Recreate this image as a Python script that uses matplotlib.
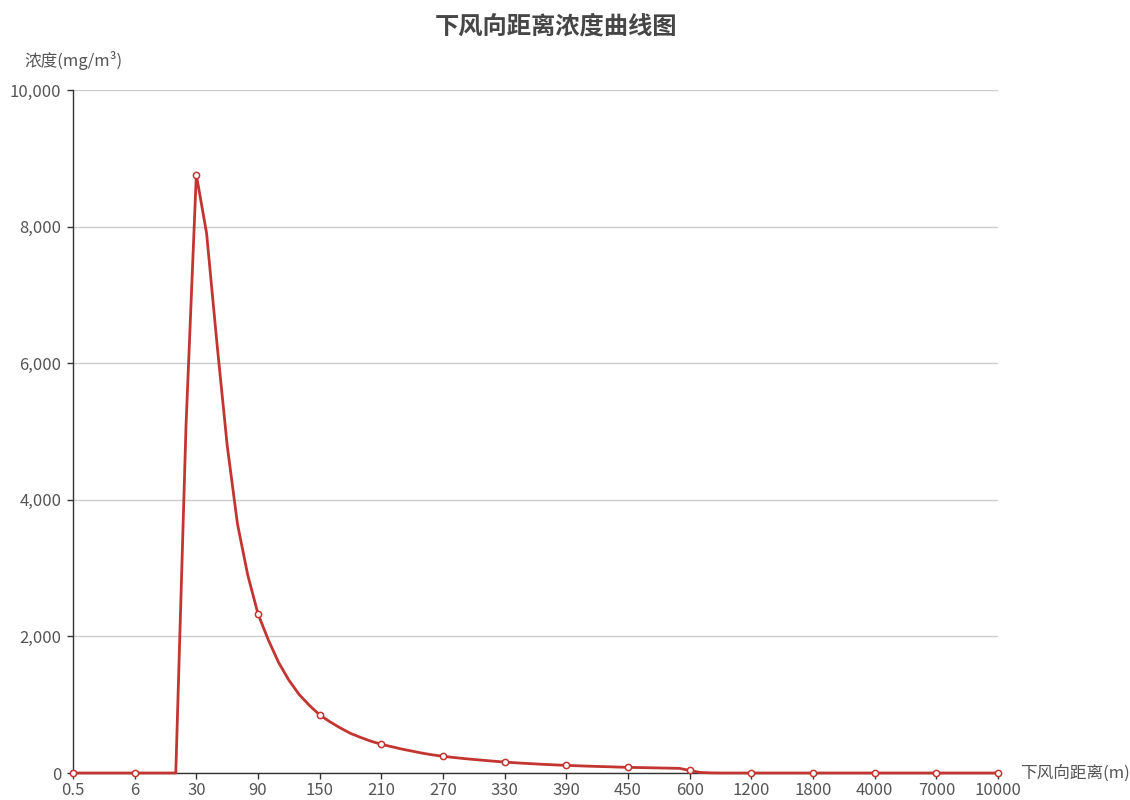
import matplotlib
matplotlib.use("Agg")
import matplotlib.pyplot as plt
from matplotlib.ticker import FuncFormatter

plt.rcParams['font.family'] = ['Noto Sans CJK SC', 'DejaVu Sans']

# Category axis: downwind distance (m)
distances = [0.5, 1, 2, 3, 4, 5, 6,
             10, 14, 18, 22, 26, 30,
             40, 50, 60, 70, 80, 90,
             100, 110, 120, 130, 140, 150,
             160, 170, 180, 190, 200, 210,
             220, 230, 240, 250, 260, 270,
             280, 290, 300, 310, 320, 330,
             340, 350, 360, 370, 380, 390,
             400, 410, 420, 430, 440, 450,
             475, 500, 525, 550, 575, 600,
             700, 800, 900, 1000, 1100, 1200,
             1300, 1400, 1500, 1600, 1700, 1800,
             2000, 2400, 2800, 3200, 3600, 4000,
             4500, 5000, 5500, 6000, 6500, 7000,
             7500, 8000, 8500, 9000, 9500, 10000]

# Concentration (mg/m3)
concentration = [0, 0, 0, 0, 0, 0, 0, 0, 0, 0, 0,
                 5100, 8760, 7900, 6300, 4800, 3650, 2900, 2330,
                 1950, 1620, 1360, 1150, 990, 850,
                 750, 660, 580, 520, 465, 420,
                 385, 350, 320, 290, 265, 245,
                 228, 212, 198, 185, 172, 160,
                 150, 141, 133, 125, 118, 112,
                 106, 101, 96, 92, 87, 83,
                 80, 77, 74, 71, 68, 38,
                 8, 2, 0, 0, 0, 0,
                 0, 0, 0, 0, 0, 0,
                 0, 0, 0, 0, 0, 0,
                 0, 0, 0, 0, 0, 0,
                 0, 0, 0, 0, 0, 0]

label_step = 6
y_ticks = [0, 2000, 4000, 6000, 8000, 10000]

title = '下风向距离浓度曲线图'
x_name = '下风向距离(m)'
y_name = '浓度(mg/m³)'

line_color = '#c23531'
text_color = '#555555'
axis_color = '#333333'

fig = plt.figure(figsize=(11.3, 8), dpi=100)
ax = fig.add_axes([73 / 1130, 27 / 800, 925 / 1130, 683 / 800])

idx = list(range(len(distances)))
ax.plot(idx, concentration, color=line_color, lw=2.0, zorder=3,
        solid_joinstyle='round', clip_on=False)
mark_idx = idx[::label_step]
ax.plot(mark_idx, [concentration[i] for i in mark_idx], linestyle='none',
        marker='o', markersize=4.5, markerfacecolor='white',
        markeredgecolor=line_color, markeredgewidth=1.1, zorder=4, clip_on=False)

ax.set_xlim(0, len(distances) - 1)
ax.set_ylim(0, 10000)
ax.set_xticks(mark_idx)
ax.set_xticklabels([('%g' % distances[i]) for i in mark_idx])
ax.set_yticks(y_ticks)
ax.yaxis.set_major_formatter(FuncFormatter(lambda v, p: f'{int(v):,}'))

ax.grid(axis='y', color='#cccccc', lw=1.0, zorder=0)
ax.set_axisbelow(True)
for s in ['top', 'right']:
    ax.spines[s].set_visible(False)
for s in ['left', 'bottom']:
    ax.spines[s].set_color(axis_color)
    ax.spines[s].set_linewidth(1.0)
ax.tick_params(axis='x', length=4.5, width=1, color=axis_color,
               labelsize=12, labelcolor=text_color, pad=2)
ax.tick_params(axis='y', length=4.5, width=1, color=axis_color,
               labelsize=12, labelcolor=text_color, pad=4)

fig.text(556 / 1130, 1 - 27 / 800, title, ha='center', va='center',
         fontsize=17.5, fontweight='bold', color='#464646')
fig.text(73 / 1130, 1 - 60 / 800, y_name, ha='center', va='center',
         fontsize=12, color=text_color)
fig.text(1020 / 1130, 1 - 773 / 800, x_name, ha='left', va='center',
         fontsize=12, color=text_color)

fig.savefig('out.png', dpi=100)
